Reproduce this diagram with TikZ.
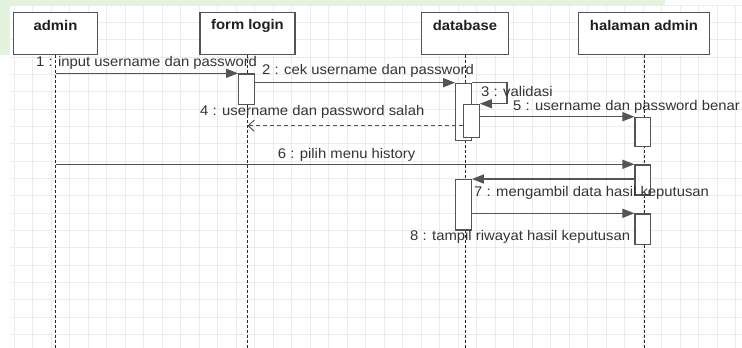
\documentclass[tikz,border=0pt]{standalone}
\usepackage{fontspec}
\setmainfont[FakeStretch=1.06]{Liberation Sans}
\usetikzlibrary{arrows.meta}
\definecolor{gridline}{RGB}{236,236,236}
\definecolor{edge}{RGB}{84,84,84}
\definecolor{ink}{RGB}{52,52,52}
\definecolor{wash}{RGB}{228,243,221}

\begin{document}
\begin{tikzpicture}[x=1pt,y=-1pt,
  head/.style={draw=edge, line width=1.3pt, fill=white, minimum height=42pt, inner sep=0},
  headtxt/.style={font=\fontsize{14}{16}\selectfont\bfseries, text=black!88, inner sep=0},
  lane/.style={draw=black!85, line width=0.9pt, dash pattern=on 3pt off 2pt},
  act/.style={draw=edge, line width=1.3pt, fill=white, minimum width=15.5pt, inner sep=0, anchor=north},
  msg/.style={draw=edge, line width=1.4pt, -{Triangle[length=12pt,width=9pt]}},
  ret/.style={draw=edge, line width=1pt, dash pattern=on 4pt off 3pt, -{Straight Barb[length=6pt,width=11pt]}},
  lbl/.style={font=\fontsize{14}{16}\selectfont, text=ink, inner sep=0, anchor=base west},
]
\useasboundingbox (0,0) rectangle (742,348);
\fill[white] (0,0) rectangle (742,348);

% page wash and drawing grid
\fill[wash] (0,0) rectangle (665,5);
\fill[wash] (0,0) rectangle (10,55);
\foreach \i in {0,...,39}
  \draw[gridline, line width=0.8pt] ({14+18.5*\i},5) -- ({14+18.5*\i},348);
\foreach \j in {0,...,19}
  \draw[gridline, line width=0.8pt] (10,{5+17.33*\j}) -- (742,{5+17.33*\j});

% participants
\node[head, minimum width=83.7pt]  (admin) at (55.5,33.3) {};
\node[head, minimum width=95pt]    (form)  at (247.5,33.3) {};
\node[head, minimum width=87.4pt]  (db)    at (465,33.3) {};
\node[head, minimum width=131.6pt] (hal)   at (644,33.3) {};
\node[headtxt] at ([yshift=-14pt]admin.north) {admin};
\node[headtxt] at ([yshift=-14pt]form.north)  {form login};
\node[headtxt] at ([yshift=-14pt]db.north)    {database};
\node[headtxt] at ([yshift=-14pt]hal.north)   {halaman admin};

% lifelines
\coordinate (bottom) at (0,348);
\draw[lane] (admin.south) -- (admin.south |- bottom);
\draw[lane] (form.south)  -- (form.south |- bottom);
\draw[lane] (db.south)    -- (db.south |- bottom);
\draw[lane] (hal.south)   -- (hal.south |- bottom);

% activations
\node[act, minimum height=30.4pt] (f1) at (246.5,73.3) {};
\node[act, minimum height=57.3pt] (d1) at (463.5,82.7) {};
\node[act, minimum height=33pt]   (d2) at (471.5,103.7) {};
\node[act, minimum height=29.3pt] (h1) at (642.8,116.7) {};
\node[act, minimum height=30pt]   (h2) at (642.8,164.3) {};
\node[act, minimum height=50.3pt] (d3) at (463.5,179) {};
\node[act, minimum height=30.7pt] (h3) at (642.8,213.3) {};

% messages
\coordinate (r4) at (0,125.7);
\draw[msg] (admin.south |- f1.north) -- (f1.north west);
\draw[msg] (f1.east |- d1.north) -- (d1.north west);
\draw[msg] (d1.north east) -- ++(35,0) |- (d2.north east);
\draw[msg] (d2.east |- h1.north) -- (h1.north west);
\draw[ret] (d2.west |- r4) -- (form.south |- r4);
\draw[msg] (admin.south |- h2.north) -- (h2.north west);
\draw[msg] (h2.west |- d3.north) -- (d3.north east);
\draw[msg] (d3.east |- h3.north) -- (h3.north west);

% message labels
\node[lbl] at (36,66)    {1 : input username dan password};
\node[lbl] at (262,74.5) {2 : cek username dan password};
\node[lbl] at (481,96.3) {3 : validasi};
\node[lbl] at (200,115.5){4 : username dan password salah};
\node[lbl] at (513,110)  {5 : username dan password benar};
\node[lbl] at (277.7,158.3) {6 : pilih menu history};
\node[lbl] at (474,196)  {7 : mengambil data hasil keputusan};
\node[lbl] at (410,240.5){8 : tampil riwayat hasil keputusan};
\end{tikzpicture}
\end{document}
